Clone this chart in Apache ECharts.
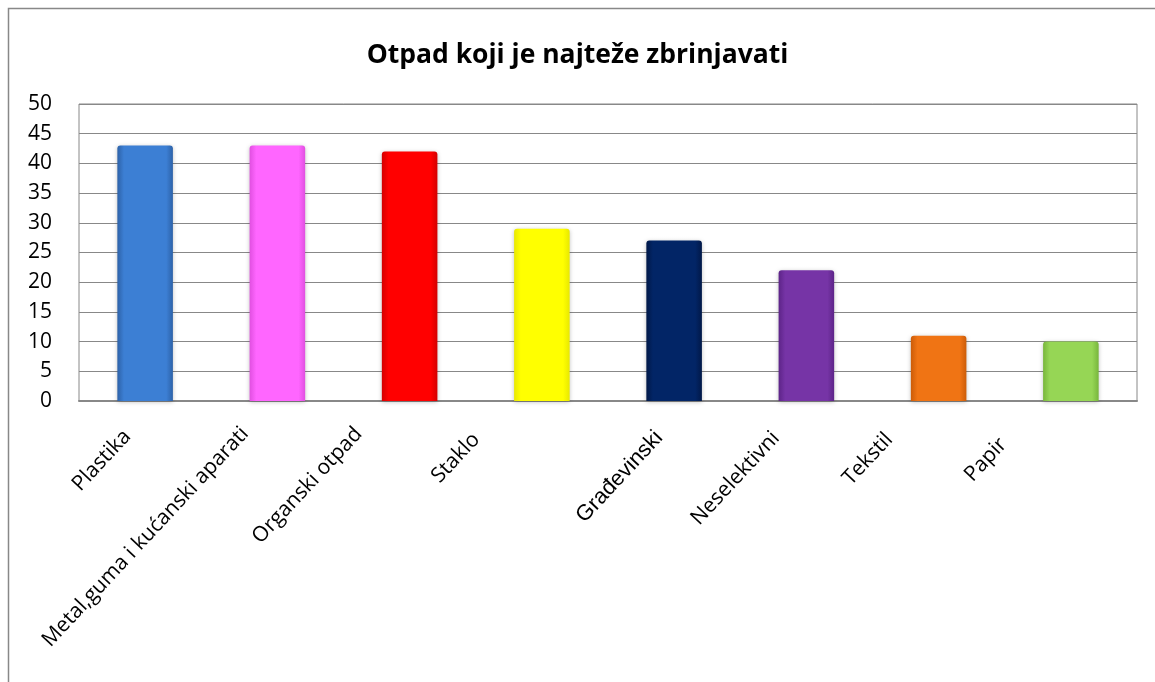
<!DOCTYPE html>
<html><head><meta charset="utf-8">
<script src="https://cdn.jsdelivr.net/npm/echarts@6/dist/echarts.min.js"></script>
<style>html,body{margin:0;padding:0;background:#fff}#c{width:1155px;height:682px}</style>
</head><body><div id="c"></div>
<script>
const categories = ['Plastika','Metal,guma i kućanski aparati','Organski otpad','Staklo','Građevinski','Neselektivni','Tekstil','Papir'];
const values = [43, 43, 42, 29, 27, 22, 11, 10];
const colors = ['#3c7fd4','#ff66ff','#ff0000','#ffff00','#022566','#7634a6','#f07414','#96d655'];
const edgeColors = ['#2d62a8','#e04fe0','#d40000','#e8e800','#011848','#5d2488','#cc5c08','#78b63c'];

// label nudges (styling only): [paddingTop, paddingRight, paddingBottom]
const labelPad = [[0,26,0],[0,34,25],[0,47,52],[0,61,66],[6,25,0],[0,36,16],[0,50,42],[0,66,62]];
const rich = {};
labelPad.forEach((p,i)=>{
  rich['c'+i] = {fontFamily: i===4?'Liberation Sans':'Open Sans', fontSize: i===4?22:21, color:'#000',
    padding:[p[0],p[1],p[2],0]};
});

const chart = echarts.init(document.getElementById('c'));
chart.setOption({
  backgroundColor:'#fff',
  animation:false,
  title:{text:'Otpad koji je najteže zbrinjavati',left:'center',top:37,
    textStyle:{fontFamily:'Open Sans',fontWeight:'bold',fontSize:26.5,color:'#000'}},
  graphic:[{type:'rect',shape:{x:8.5,y:8.5,width:1160,height:700},style:{fill:'none',stroke:'#888',lineWidth:1.5}}],
  grid:{left:79,right:18,top:104,bottom:281,show:true,borderColor:'#888',borderWidth:1},
  xAxis:{type:'category',data:categories,
    axisLine:{lineStyle:{color:'#888',width:2}},axisTick:{show:false},
    axisLabel:{rotate:47,margin:13,interval:0,
      formatter:function(v,i){return '{c'+i+'|'+v+'}';},
      rich:rich}},
  yAxis:{type:'value',min:0,max:50,interval:5,
    axisLine:{show:false},axisTick:{show:false},
    splitLine:{lineStyle:{color:'#888',width:1.2}},
    axisLabel:{margin:27,fontFamily:'Open Sans',fontSize:21,color:'#000'}},
  series:[{type:'bar',barWidth:'42%',
    data:values.map((v,i)=>({value:v,itemStyle:{
      color:new echarts.graphic.LinearGradient(0,0,1,0,[
        {offset:0,color:edgeColors[i]},{offset:0.12,color:colors[i]},
        {offset:0.88,color:colors[i]},{offset:1,color:edgeColors[i]}]),
      borderRadius:[3,3,0,0],
      shadowColor:'rgba(0,0,0,0.25)',shadowBlur:4,shadowOffsetY:1}}))}]
});
</script></body></html>
